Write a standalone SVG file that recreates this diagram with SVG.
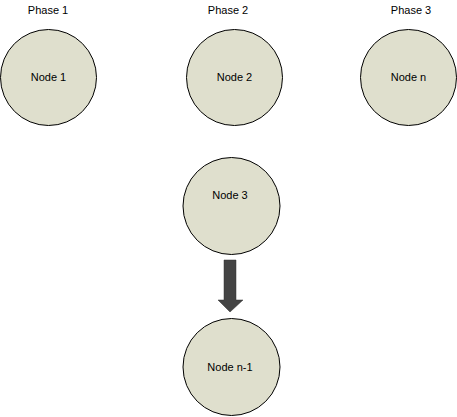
<svg xmlns="http://www.w3.org/2000/svg" width="457" height="417" viewBox="0 0 457 417">
<style>
.n{fill:#dfdfcd;stroke:#000;stroke-width:1}
.t{font-family:"Liberation Sans",Arial,sans-serif;font-size:11px;fill:#000;text-anchor:middle}
</style>
<rect width="457" height="417" fill="#fff"/>
<text class="t" x="48" y="14">Phase 1</text>
<text class="t" x="228" y="14">Phase 2</text>
<text class="t" x="411" y="14">Phase 3</text>
<g id="node1"><circle class="n" cx="48.5" cy="77.5" r="48"/><text class="t" x="48.5" y="81">Node 1</text></g>
<g id="node2"><circle class="n" cx="234.5" cy="77.5" r="48"/><text class="t" x="234.5" y="81">Node 2</text></g>
<g id="noden"><circle class="n" cx="408.5" cy="77.5" r="48"/><text class="t" x="408.5" y="81">Node n</text></g>
<g id="node3"><circle class="n" cx="231.5" cy="206" r="48.5"/><text class="t" x="230" y="199">Node 3</text></g>
<g id="noden1"><circle class="n" cx="231.5" cy="367" r="48.5"/><text class="t" x="230" y="371">Node n-1</text></g>
<g id="connectors">
<path d="M224,260 L236,260 L236,300 L243,300 L230,312 L218,300 L224,300 Z" fill="#444" stroke="#333" stroke-width="0.5"/>
</g>
</svg>
